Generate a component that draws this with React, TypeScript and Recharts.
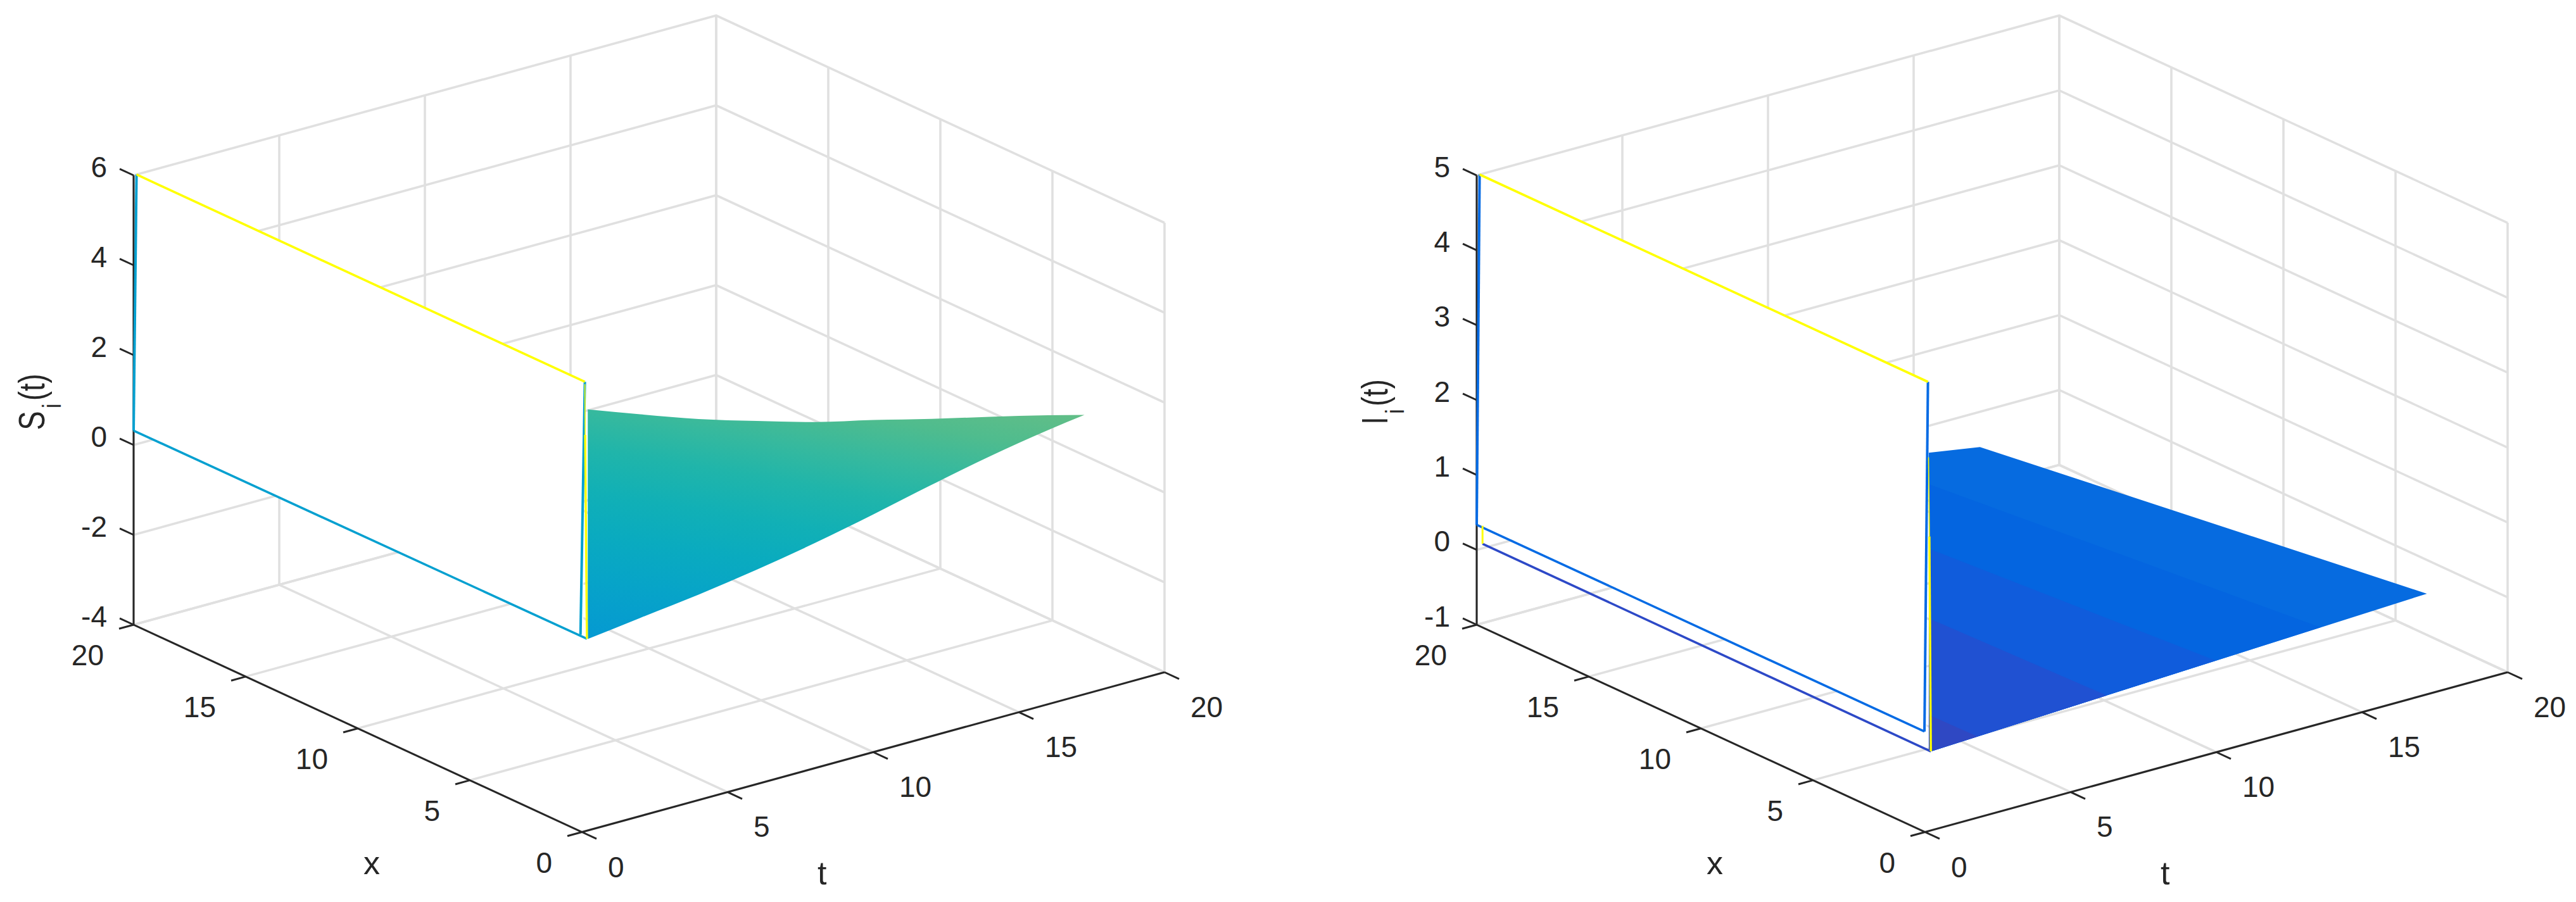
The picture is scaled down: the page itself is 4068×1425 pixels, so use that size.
import { Area, ComposedChart, Line, Scatter, XAxis, YAxis } from "recharts"

const WIDTH = 1947
const HEIGHT = 1425

// axis ticks
const tTicks = [0, 5, 10, 15, 20]
const xTicks = [0, 5, 10, 15, 20]
const sTicks = [-4, -2, 0, 2, 4, 6]
const iTicks = [-1, 0, 1, 2, 3, 4, 5]

// S surface outline, values along t
const sEdgeT = [0.2, 2, 4, 6, 8, 10, 12, 14, 16, 17.25]
const sEdgeLower = [0.26, 0.41, 0.57, 0.77, 1.01, 1.29, 1.59, 1.87, 2.1, 2.215]
const sEdgeUpper = [5.37, 4.94, 4.48, 4.08, 3.7, 3.39, 3.06, 2.75, 2.43, 2.215]

// I surface outline and its colour band boundaries
const iEdgeT = [0.13, 1.885, 17.23]
const iEdgeLower = [0.055, 0.085, 0.344]
const iEdgeUpper = [4.05, 3.94, 0.344]
const iBand1T = [0.13, 13.57]
const iBand1Lower = [0.055, 0.284]
const iBand1Upper = [3.63, 0.286]
const iBand2T = [0.13, 9.98]
const iBand2Lower = [0.055, 0.225]
const iBand2Upper = [2.77, 0.225]
const iBand3T = [0.13, 6.24]
const iBand3Lower = [0.055, 0.158]
const iBand3Upper = [1.84, 0.158]
const iBand4T = [0.13, 1.8]
const iBand4Lower = [0.055, 0.085]
const iBand4Upper = [0.55, 0.085]

// traces along the t=0 wall, as [t, x, z]
type P3 = [number, number, number]
const sTop: P3[] = [[0.1, 20, 6], [0.1, 0, 6]]
const sLeft: P3[] = [[0.1, 20, 6], [0, 20, 0.32]]
const sBottom: P3[] = [[0, 20, 0.32], [0.17, 0, 0.27]]
const sRight: P3[] = [[0.1, 0, 6], [-0.05, 0, 0.4]]
const sYellowThin: P3[] = [[0.1, 0, 5.95], [0.11, 0, 4.82]]
const sYellow: P3[] = [[0.11, 0, 4.82], [0.17, 0, 0.27]]

const iTop: P3[] = [[0.1, 20, 5], [0.1, 0, 5]]
const iLeft: P3[] = [[0.1, 20, 5], [0, 20, 0.335]]
const iBottom: P3[] = [[0, 20, 0.335], [-0.02, 0, 0.344]]
const iRight: P3[] = [[0.1, 0, 5], [-0.02, 0, 0.344]]
const iDark: P3[] = [[0.2, 20, 0.06], [0.2, 0, 0.056]]
const iYellowLeft: P3[] = [[0.2, 20, 0.3], [0.2, 20, 0.06]]
const iYellowThin: P3[] = [[0.12, 0, 3.99], [0.15, 0, 2.93]]
const iYellow: P3[] = [[0.15, 0, 2.93], [0.2, 0, 0.056]]

const INK = "#262626"
const GRID = "#E0E0E0"
const FONT = "'Liberation Sans', Arial, sans-serif"

const sGradientStops = [
  [0, "#0599D2"],
  [0.2, "#07A4C8"],
  [0.35, "#0AABBF"],
  [0.48, "#11B0B6"],
  [0.62, "#20B5AA"],
  [0.74, "#36B99E"],
  [0.87, "#4FBC8E"],
  [1, "#62BE87"],
]

function makeProjection(zMin: number, zUnit: number) {
  return ([t, x, z]: P3) => ({
    x: 919 + 46 * t - 35.4 * x,
    y: 1314.5 - 12.625 * t - 16.375 * x - (z - zMin) * zUnit,
  })
}

function tickLabel(dx: number, dy: number, anchor: "start" | "end", size = 46) {
  return (p: any) => (
    <text
      x={p.cx + dx}
      y={p.cy + dy}
      textAnchor={anchor}
      dominantBaseline="central"
      fontFamily={FONT}
      fontSize={size}
      fill={INK}
    >
      {p.payload.label}
    </text>
  )
}

type Surface = { t: number[]; lower: number[]; upper: number[]; fill: string; curve?: "linear" | "monotone" }
type Trace = { points: P3[]; color: string; width: number }

function Panel(props: {
  left: number
  zTicks: number[]
  zUnit: number
  symbol: string
  surfaces: Surface[]
  wallLow: number
  traces: Trace[]
  defs?: any
}) {
  const { left, zTicks, zUnit, symbol, surfaces, wallLow, traces, defs } = props
  const zMin = zTicks[0]
  const zMax = zTicks[zTicks.length - 1]
  const project = makeProjection(zMin, zUnit)

  const gridLines: P3[][] = [
    ...zTicks.map((z): P3[] => [[0, 20, z], [20, 20, z], [20, 0, z]]),
    ...tTicks.map((t): P3[] => [[t, 0, zMin], [t, 20, zMin], [t, 20, zMax]]),
    ...xTicks.map((x): P3[] => [[0, x, zMin], [20, x, zMin], [20, x, zMax]]),
  ]
  const axisLines: P3[][] = [
    [[0, 20, zMin], [0, 20, zMax]],
    [[0, 20, zMin], [0, 0, zMin]],
    [[0, 0, zMin], [20, 0, zMin]],
    ...zTicks.map((z): P3[] => [[0, 20, z], [0, 20.62, z]]),
    ...xTicks.map((x): P3[] => [[0, x, zMin], [-0.5, x, zMin]]),
    ...tTicks.map((t): P3[] => [[t, 0, zMin], [t, -0.65, zMin]]),
  ]

  const wallRows = [20, 0].map((x) => ({
    x: project([0.05, x, 0]).x,
    band: [project([0.05, x, wallLow]).y, project([0.05, x, zMax]).y],
  }))

  const rows = (s: Surface) =>
    s.t.map((t, i) => ({
      x: project([t, 0, 0]).x,
      band: [project([t, 0, s.lower[i]]).y, project([t, 0, s.upper[i]]).y],
    }))

  const line = (points: P3[], color: string, width: number, z: number, key: string) => (
    <Line
      key={key}
      data={points.map(project)}
      dataKey="y"
      stroke={color}
      strokeWidth={width}
      dot={false}
      activeDot={false}
      legendType="none"
      isAnimationActive={false}
      zIndex={z}
    />
  )

  return (
    <div style={{ position: "absolute", left, top: 0 }}>
      <ComposedChart width={WIDTH} height={HEIGHT} margin={{ top: 0, right: 0, bottom: 0, left: 0 }}>
        {defs}
        <XAxis type="number" dataKey="x" domain={[0, WIDTH]} hide allowDataOverflow />
        <YAxis type="number" dataKey="y" domain={[0, HEIGHT]} reversed hide allowDataOverflow />
        {gridLines.map((g, i) => line(g, GRID, 3.6, 1, `grid${i}`))}
        {surfaces.map((s, i) => (
          <Area
            key={`surface${i}`}
            data={rows(s)}
            dataKey="band"
            type={s.curve ?? "linear"}
            fill={s.fill}
            fillOpacity={1}
            stroke="none"
            dot={false}
            activeDot={false}
            isAnimationActive={false}
            zIndex={10 + i}
          />
        ))}
        <Area
          data={wallRows}
          dataKey="band"
          type="linear"
          fill="#FFFFFF"
          fillOpacity={1}
          stroke="none"
          dot={false}
          activeDot={false}
          isAnimationActive={false}
          zIndex={20}
        />
        {axisLines.map((a, i) => line(a, INK, 3, 30, `axis${i}`))}
        {traces.map((tr, i) => line(tr.points, tr.color, tr.width, 40, `trace${i}`))}
        <Scatter
          data={zTicks.map((z) => ({ ...project([0, 20, z]), label: String(z) }))}
          shape={tickLabel(-42, -13.5, "end")}
          isAnimationActive={false}
          zIndex={50}
        />
        <Scatter
          data={xTicks.map((x) => ({ ...project([0, x, zMin]), label: String(x) }))}
          shape={tickLabel(-47, 48, "end")}
          isAnimationActive={false}
          zIndex={50}
        />
        <Scatter
          data={tTicks.map((t) => ({ ...project([t, 0, zMin]), label: String(t) }))}
          shape={tickLabel(41, 55, "start")}
          isAnimationActive={false}
          zIndex={50}
        />
        <Scatter
          data={[{ ...project([0, 10, zMin]), label: "x" }]}
          shape={tickLabel(9, 212, "start", 52)}
          isAnimationActive={false}
          zIndex={50}
        />
        <Scatter
          data={[{ ...project([10, 0, zMin]), label: "t" }]}
          shape={tickLabel(-88, 191, "start", 52)}
          isAnimationActive={false}
          zIndex={50}
        />
        <Scatter
          data={[project([0, 20, (zMin + zMax) / 2])]}
          shape={(p: any) => (
            <text
              transform={`translate(${p.cx - 141},${p.cy + 3}) rotate(-90) scale(0.79,1)`}
              textAnchor="middle"
              fontFamily={FONT}
              fontSize={57}
              fill={INK}
            >
              {symbol}
              <tspan fontSize={40} dx={6} dy={26}>i</tspan>
              <tspan dx={6} dy={-26}>(t)</tspan>
            </text>
          )}
          isAnimationActive={false}
          zIndex={50}
        />
      </ComposedChart>
    </div>
  )
}

export default function App() {
  const blueS = "#05A0D0"
  const blueI = "#056BE4"
  const dark = "#2D49C7"
  const yellow = "#FFFF00"

  const sTraces: Trace[] = [
    { points: sLeft, color: blueS, width: 4 },
    { points: sBottom, color: blueS, width: 3.6 },
    { points: sRight, color: blueS, width: 4 },
    { points: sTop, color: yellow, width: 3.6 },
    { points: sYellowThin, color: yellow, width: 1.6 },
    { points: sYellow, color: yellow, width: 3.4 },
  ]
  const iTraces: Trace[] = [
    { points: iLeft, color: blueI, width: 4 },
    { points: iBottom, color: blueI, width: 3.6 },
    { points: iRight, color: blueI, width: 4 },
    { points: iDark, color: dark, width: 3.6 },
    { points: iTop, color: yellow, width: 3.6 },
    { points: iYellowLeft, color: yellow, width: 3 },
    { points: iYellowThin, color: yellow, width: 1.6 },
    { points: iYellow, color: yellow, width: 3.4 },
  ]

  return (
    <div style={{ position: "absolute", left: 0, top: 0, width: 4068, height: 1425, background: "#fff" }}>
      <Panel
        left={0}
        zTicks={sTicks}
        zUnit={71}
        symbol="S"
        wallLow={0.32}
        traces={sTraces}
        surfaces={[{ t: sEdgeT, lower: sEdgeLower, upper: sEdgeUpper, fill: "url(#sGrad)", curve: "monotone" }]}
        defs={
          <defs>
            <linearGradient id="sGrad" gradientUnits="userSpaceOnUse" x1={928} y1={1009} x2={1008} y2={536}>
              {sGradientStops.map(([o, c]) => (
                <stop key={o} offset={o} stopColor={c as string} />
              ))}
            </linearGradient>
          </defs>
        }
      />
      <Panel
        left={2121}
        zTicks={iTicks}
        zUnit={118.33}
        symbol="I"
        wallLow={0.34}
        traces={iTraces}
        surfaces={[
          { t: iEdgeT, lower: iEdgeLower, upper: iEdgeUpper, fill: "#066BE0" },
          { t: iBand1T, lower: iBand1Lower, upper: iBand1Upper, fill: "#0465E0" },
          { t: iBand2T, lower: iBand2Lower, upper: iBand2Upper, fill: "#105CDC" },
          { t: iBand3T, lower: iBand3Lower, upper: iBand3Upper, fill: "#2051D2" },
          { t: iBand4T, lower: iBand4Lower, upper: iBand4Upper, fill: "#2F48C3" },
        ]}
      />
    </div>
  )
}
